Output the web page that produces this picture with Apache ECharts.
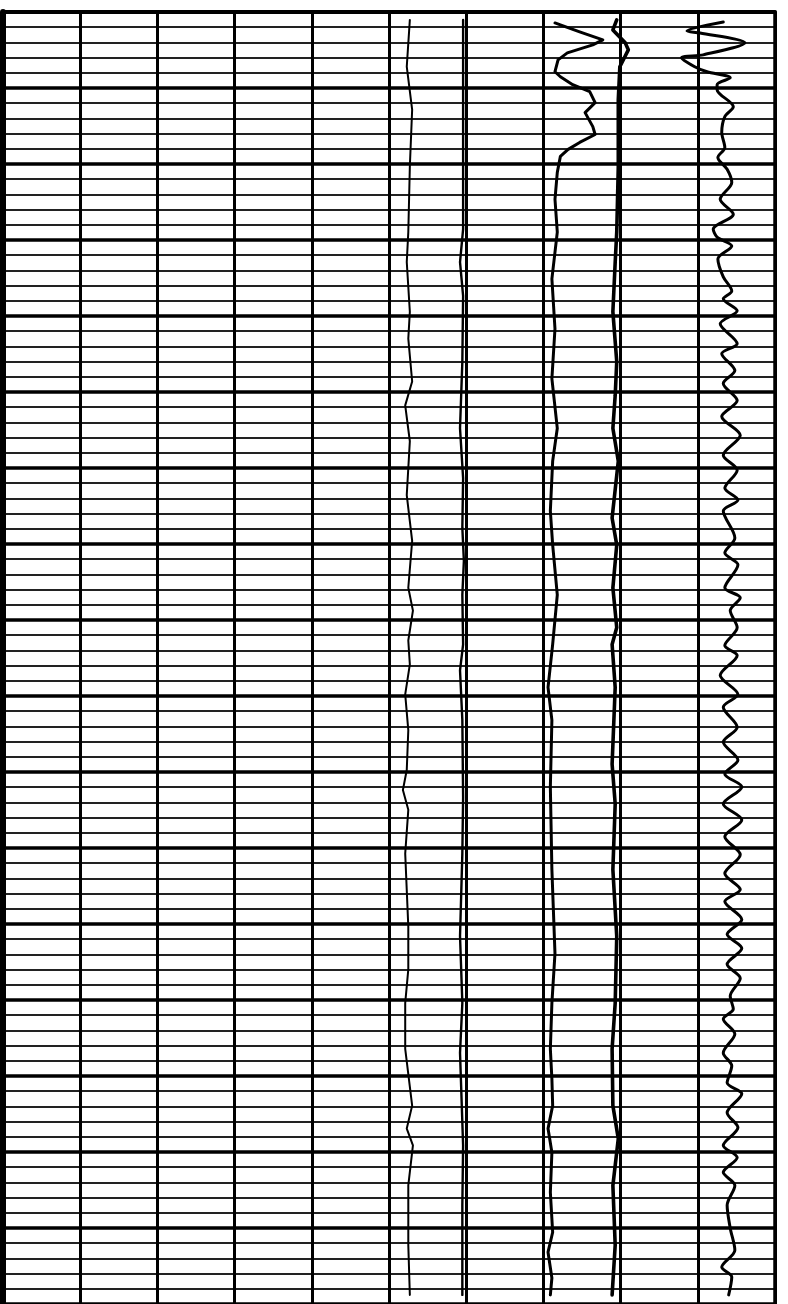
<!DOCTYPE html>
<html>
<head>
<meta charset="utf-8">
<title>log strip</title>
<script src="https://cdn.jsdelivr.net/npm/echarts/dist/echarts.min.js"></script>
<style>
	html,body{margin:0;padding:0;background:#fff;}
	#chart{width:788px;height:1304px;}
</style>
</head>
<body>
<div id="chart"></div>
<script>
// depth runs down the strip, 50 per heavy line, 10 per light line
var depthMax = 850;
var depthStep = 50;
// 10 columns across the paper
var scaleMax = 100;
var scaleStep = 10;

// curve 1 - thin trace in column 6
var curve1Depth = [5.2,36.0,64.2,101.6,144.8,164.5,197.2,214.9,243.1,258.8,282.4,317.8,348.0,378.8,393.8,413.5,429.2,448.9,472.5,498.7,511.8,524.9,553.7,601.6,629.8,652.0,682.2,719.5,734.6,745.7,772.0,811.3,844.0];
var curve1 = [52.7,52.3,53.0,52.7,52.5,52.3,52.7,52.5,53.0,52.1,52.7,52.3,53.0,52.5,53.1,52.5,52.7,52.1,52.5,52.3,51.8,52.5,52.1,52.5,52.5,52.1,52.1,53.0,52.3,53.1,52.5,52.5,52.7];

// curve 2 - trace beside the 6th line
var curve2Depth = [5.2,57.7,142.9,164.5,186.8,230.0,273.9,306.7,339.4,361.1,383.4,416.1,433.2,465.9,516.4,553.7,608.1,652.0,684.8,745.7,785.1,844.0];
var curve2 = [59.6,59.6,59.6,59.2,59.6,59.5,59.2,59.6,59.5,59.7,59.5,59.6,59.2,59.5,59.6,59.5,59.2,59.5,59.2,59.6,59.5,59.5];

// curve 3 - column 8, swings at the top
var curve3Depth = [7.2,8.5,13.1,18.3,21.6,26.9,31.5,39.3,42.6,47.8,52.4,59.6,66.2,75.4,80.6,85.8,90.4,95.0,105.5,123.2,144.8,175.6,208.4,241.2,273.9,295.5,328.3,350.6,383.4,416.1,444.3,465.9,509.8,564.2,619.3,652.0,682.2,701.8,719.5,734.6,750.3,776.5,802.8,815.9,832.9,844.0];
var curve3 = [71.5,72.2,74.7,77.7,76.4,73.1,71.9,71.5,72.2,73.8,76.0,76.7,75.4,76.4,76.7,74.7,73.2,72.2,71.8,71.5,71.8,71.1,71.5,71.1,71.8,71.2,70.9,71.2,71.8,71.2,70.6,71.1,70.9,71.1,71.5,71.1,70.9,71.1,71.2,70.6,71.1,70.9,71.2,70.6,71.1,70.9];

// curve 4 - heavy trace against the 8th line
var curve4Depth = [5.2,11.8,20.3,24.9,36.0,57.7,101.6,144.8,164.5,197.2,230.0,252.3,273.9,295.5,332.9,350.6,378.8,405.0,416.1,444.3,494.8,521.0,564.2,608.1,652.0,682.2,719.5,741.2,772.0,811.3,844.0];
var curve4 = [79.5,79.0,80.6,81.0,79.9,79.7,79.7,79.5,79.3,79.0,79.5,79.3,79.0,79.7,78.9,79.5,79.0,79.5,78.9,79.3,78.9,79.3,79.0,79.5,79.3,78.9,79.0,79.7,79.0,79.3,78.9];

// curve 5 - wiggly trace in the last column
var curve5Depth = [6.6,12.5,13.8,20.3,28.2,30.1,36.0,39.3,43.3,47.8,51.1,62.3,68.8,79.3,89.1,95.7,103.5,112.1,123.2,133.0,142.9,148.1,154.0,162.5,174.3,183.5,188.7,196.6,205.1,218.2,224.8,235.9,244.4,255.6,266.1,278.5,291.6,301.4,313.2,321.1,328.3,346.0,355.8,363.7,378.8,385.3,393.8,405.0,416.8,423.3,436.4,448.9,457.4,470.5,480.3,492.1,501.3,509.8,521.0,531.5,542.6,554.4,566.8,577.3,585.2,597.0,606.8,616.0,626.5,635.7,647.4,656.0,662.5,672.4,684.8,693.3,704.5,711.7,724.1,733.9,745.7,753.6,763.4,772.0,785.1,800.1,814.6,825.7,832.2,844.0];
var curve5 = [93.3,88.6,90.3,96.1,90.7,87.9,89.6,91.2,94.2,92.5,92.5,94.6,93.5,93.1,93.5,92.6,93.8,94.4,92.9,94.6,92.0,92.5,94.4,92.6,93.3,94.4,93.3,95.1,92.9,95.1,93.1,94.8,93.3,95.1,93.1,95.5,93.3,95.1,93.5,95.2,93.3,94.8,93.5,95.2,93.5,95.5,94.2,95.1,93.5,95.1,92.9,95.2,93.3,95.1,93.3,95.2,93.5,95.7,93.3,95.7,93.5,95.5,93.5,95.5,93.5,95.7,93.8,95.7,93.8,95.5,94.2,94.6,93.3,94.8,93.3,94.4,93.8,95.7,93.8,95.2,93.3,95.1,93.3,94.8,93.8,94.2,94.8,93.1,94.4,94.0];

function pairs(depth, vals){
	var out = [];
	for(var i = 0; i < depth.length; i++){
		out.push([vals[i], depth[i]]);
	}
	return out;
}

function trace(depth, vals, width, smooth){
	return {
		type:'line',
		data:pairs(depth, vals),
		showSymbol:false,
		symbol:'none',
		smooth:smooth || 0,
		lineStyle:{color:'#000', width:width, join:'round', cap:'round'},
		z:5
	};
}

var myChart = echarts.init(document.getElementById('chart'), null, {renderer:'canvas'});
var noText = {show:false};
var option = {
	animation:false,
	backgroundColor:'#fff',
	grid:{left:3, top:12, width:772, height:depthMax*1.526},
	xAxis:{
		type:'value',
		position:'top',
		min:0,
		max:scaleMax,
		interval:scaleStep,
		axisLine:{show:true, onZero:false, lineStyle:{color:'#000', width:4}},
		axisTick:noText,
		axisLabel:noText,
		splitLine:{show:true, lineStyle:{color:'#000', width:3}}
	},
	yAxis:[{
		type:'value',
		inverse:true,
		min:0,
		max:depthMax,
		interval:depthStep,
		axisLine:{show:true, onZero:false, lineStyle:{color:'#000', width:6}},
		axisTick:noText,
		axisLabel:noText,
		splitLine:{show:true, lineStyle:{color:'#000', width:3.5}},
		minorTick:{show:false, splitNumber:5},
		minorSplitLine:{show:true, lineStyle:{color:'#222', width:2}}
	},{
		type:'value',
		inverse:true,
		position:'right',
		min:0,
		max:depthMax,
		axisLine:{show:true, onZero:false, lineStyle:{color:'#000', width:3.5}},
		axisTick:noText,
		axisLabel:noText,
		splitLine:noText
	}],
	series:[
		trace(curve1Depth, curve1, 2),
		trace(curve2Depth, curve2, 2.4),
		trace(curve3Depth, curve3, 3),
		trace(curve4Depth, curve4, 3.6),
		trace(curve5Depth, curve5, 3, 0.3)
	]
};
myChart.setOption(option);
</script>
</body>
</html>
